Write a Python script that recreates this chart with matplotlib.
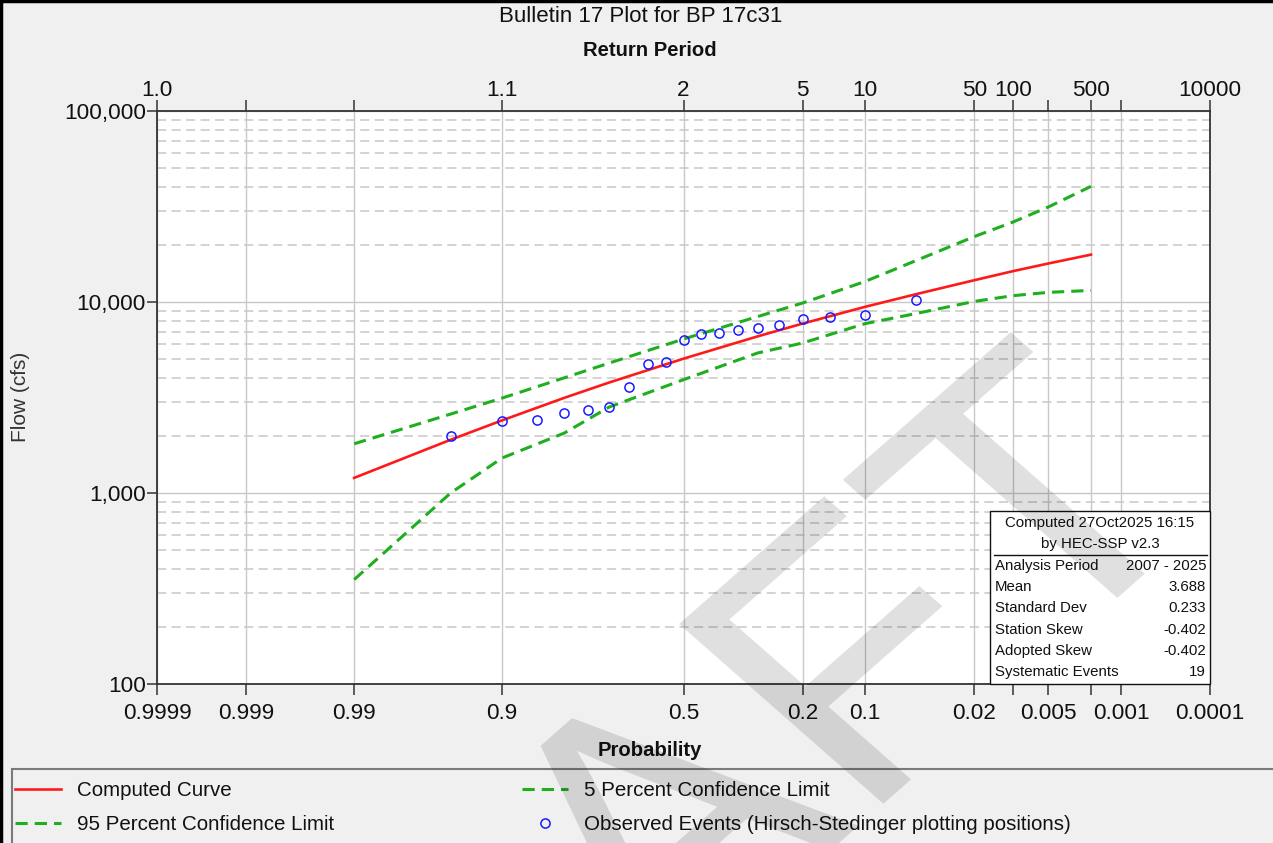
import math
import numpy as np
import matplotlib
matplotlib.use('Agg')
import matplotlib.pyplot as plt
from matplotlib.ticker import FixedLocator, FixedFormatter, LogLocator, NullFormatter
from matplotlib.patches import Rectangle, PathPatch
from matplotlib.textpath import TextPath
from matplotlib.font_manager import FontProperties
from matplotlib.transforms import Affine2D
from matplotlib.lines import Line2D

# ---------------- data ----------------
curve_prob = [0.99, 0.95, 0.9, 0.8, 0.7, 0.5, 0.3, 0.2, 0.1, 0.05, 0.02, 0.01, 0.005, 0.002]
computed_flow = [1200, 1900, 2400, 3150, 3790, 5050, 6610, 7710, 9430, 11000, 13000, 14500, 15900, 17700]
upper_5pct_flow = [1810, 2590, 3140, 4010, 4790, 6400, 8390, 9880, 12800, 16500, 22000, 26200, 31400, 40300]
lower_95pct_flow = [352, 1000, 1525, 2060, 2820, 3920, 5410, 6100, 7700, 8710, 10070, 10790, 11230, 11500]

obs_prob = [0.05, 0.10, 0.15, 0.20, 0.25, 0.30, 0.35, 0.40, 0.45, 0.50,
            0.55, 0.60, 0.65, 0.70, 0.75, 0.80, 0.85, 0.90, 0.95]
obs_flow = [10200, 8600, 8330, 8170, 7540, 7300, 7150, 6900, 6820, 6350,
            4870, 4750, 3610, 2810, 2710, 2620, 2420, 2370, 2000]

prob_ticks = [0.9999, 0.999, 0.99, 0.9, 0.5, 0.2, 0.1, 0.02, 0.01, 0.005, 0.002, 0.001, 0.0001]
prob_labels = ['0.9999', '0.999', '0.99', '0.9', '0.5', '0.2', '0.1', '0.02', '', '0.005', '', '0.001', '0.0001']
rp_labels = ['1.0', '', '', '1.1', '2', '5', '10', '50', '100', '', '500', '', '10000']
flow_ticks = [100, 1000, 10000, 100000]
flow_labels = ['100', '1,000', '10,000', '100,000']

stats_rows = [('Analysis Period', '2007 - 2025'), ('Mean', '3.688'), ('Standard Dev', '0.233'),
              ('Station Skew', '-0.402'), ('Adopted Skew', '-0.402'), ('Systematic Events', '19')]

# ---------------- normal probability scale ----------------
_a = [-3.969683028665376e+01, 2.209460984245205e+02, -2.759285104469687e+02,
      1.383577518672690e+02, -3.066479806614716e+01, 2.506628277459239e+00]
_b = [-5.447609879822406e+01, 1.615858368580409e+02, -1.556989798598866e+02,
      6.680131188771972e+01, -1.328068155288572e+01]
_c = [-7.784894002430293e-03, -3.223964580411365e-01, -2.400758277161838e+00,
      -2.549671954608160e+00, 4.374664141464968e+00, 2.938163982698783e+00]
_d = [7.784695709041462e-03, 3.224671290700398e-01, 2.445134137142996e+00,
      3.754408661907416e+00]


def _ppf(p):
    p = np.clip(np.asarray(p, dtype=float), 1e-15, 1 - 1e-15)
    plow = 0.02425
    out = np.empty_like(p)
    lo = p < plow
    hi = p > 1 - plow
    mid = ~(lo | hi)
    q = np.sqrt(-2 * np.log(p[lo]))
    out[lo] = (((((_c[0]*q+_c[1])*q+_c[2])*q+_c[3])*q+_c[4])*q+_c[5]) / \
              ((((_d[0]*q+_d[1])*q+_d[2])*q+_d[3])*q+1)
    q = np.sqrt(-2 * np.log(1 - p[hi]))
    out[hi] = -(((((_c[0]*q+_c[1])*q+_c[2])*q+_c[3])*q+_c[4])*q+_c[5]) / \
              ((((_d[0]*q+_d[1])*q+_d[2])*q+_d[3])*q+1)
    q = p[mid] - 0.5
    r = q * q
    out[mid] = (((((_a[0]*r+_a[1])*r+_a[2])*r+_a[3])*r+_a[4])*r+_a[5])*q / \
               (((((_b[0]*r+_b[1])*r+_b[2])*r+_b[3])*r+_b[4])*r+1)
    return out


_erf = np.vectorize(math.erf)


def fwd(p):
    # exceedance probability -> standard normal variate (increasing)
    return _ppf(p)


def inv(z):
    z = np.asarray(z, dtype=float)
    return 0.5 * (1 + _erf(z / math.sqrt(2)))


def setup_prob_axis(a):
    a.set_xscale('function', functions=(fwd, inv))
    a.set_xlim(0.0001, 0.9999)
    left = a.transData.transform((0.9999, 1000))[0]
    right = a.transData.transform((0.0001, 1000))[0]
    if left > right:
        a.invert_xaxis()


# ---------------- figure ----------------
W, H = 1273, 843
FONT = 'Liberation Sans'
plt.rcParams['font.family'] = [FONT, 'DejaVu Sans']

fig = plt.figure(figsize=(W / 100, H / 100), dpi=100, facecolor='#f0f0f0')


def fx(x):
    return x / W


def fy(y):
    return 1 - y / H


ax = fig.add_axes([fx(157), fy(684), (1210 - 157) / W, (684 - 111) / H])
ax.set_facecolor('white')
ax.set_yscale('log')
ax.set_xscale('function', functions=(fwd, inv))

red = '#ff1a1a'
green = '#1eae1e'
blue = '#1a1aff'

h_comp, = ax.plot(curve_prob, computed_flow, color=red, lw=1.9, zorder=4,
                  label='Computed Curve')
h_5, = ax.plot(curve_prob, upper_5pct_flow, color=green, lw=2.2, dashes=(4, 2.3), zorder=3,
               label='5 Percent Confidence Limit')
h_95, = ax.plot(curve_prob, lower_95pct_flow, color=green, lw=2.2, dashes=(4, 2.3), zorder=3,
                label='95 Percent Confidence Limit')
h_obs, = ax.plot(obs_prob, obs_flow, ls='none', marker='o', ms=6.6, mfc='none', mec=blue,
                 mew=1.1, zorder=5, label='Observed Events (Hirsch-Stedinger plotting positions)')

ax.set_ylim(100, 100000)
setup_prob_axis(ax)

# x ticks (bottom)
ax.xaxis.set_major_locator(FixedLocator(prob_ticks))
ax.xaxis.set_major_formatter(FixedFormatter(prob_labels))
ax.xaxis.set_minor_locator(FixedLocator([]))
ax.tick_params(axis='x', which='major', direction='out', length=8, width=1.1, color='#333333',
               labelsize=16.2, pad=6, labelcolor='#111111')
# y ticks
ax.yaxis.set_major_locator(FixedLocator(flow_ticks))
ax.yaxis.set_major_formatter(FixedFormatter(flow_labels))
ax.yaxis.set_minor_locator(LogLocator(base=10, subs=[2, 3, 4, 5, 6, 7, 8, 9], numticks=20))
ax.yaxis.set_minor_formatter(NullFormatter())
ax.tick_params(axis='y', which='major', direction='out', length=7, width=1.1, color='#333333',
               labelsize=16.2, pad=1, labelcolor='#111111')
ax.tick_params(axis='y', which='minor', length=0)

ax.grid(True, which='major', axis='both', color='#c8c8c8', lw=1.0, zorder=0)
ax.grid(True, which='minor', axis='y', color='#c8c8c8', lw=1.1, ls=(0, (6, 3.5)), zorder=0)
ax.set_axisbelow(True)

for s in ax.spines.values():
    s.set_color('#333333')
    s.set_linewidth(1.3)

# top axis (return period)
ax2 = ax.twiny()
setup_prob_axis(ax2)
ax2.xaxis.set_major_locator(FixedLocator(prob_ticks))
ax2.xaxis.set_major_formatter(FixedFormatter(rp_labels))
ax2.xaxis.set_minor_locator(FixedLocator([]))
ax2.tick_params(axis='x', which='major', direction='out', length=8, width=1.1, color='#333333',
                labelsize=16.2, pad=-0.5, labelcolor='#111111')
for s in ax2.spines.values():
    s.set_visible(False)

# titles / labels
fig.text(fx(641), fy(16), 'Bulletin 17 Plot for BP 17c31', ha='center', va='center',
         fontsize=16, color='#111111')
fig.text(fx(650), fy(51), 'Return Period', ha='center', va='center', fontsize=14.6,
         fontweight='bold', color='#111111')
fig.text(fx(650), fy(750), 'Probability', ha='center', va='center', fontsize=14.6,
         fontweight='bold', color='#111111')
fig.text(fx(21), fy(397), 'Flow (cfs)', ha='center', va='center', rotation=90,
         fontsize=15, color='#333333')

# statistics box
fig.patches.append(Rectangle((fx(990), fy(684)), (1210 - 990) / W, (684 - 511) / H,
                             transform=fig.transFigure, facecolor='white',
                             edgecolor='#111111', lw=1.0, zorder=5))
fig.text(fx(1100), fy(523), 'Computed 27Oct2025 16:15', ha='center', va='center',
         fontsize=10.8, color='#111111', zorder=6)
fig.text(fx(1100), fy(544), 'by HEC-SSP v2.3', ha='center', va='center',
         fontsize=10.8, color='#111111', zorder=6)
fig.add_artist(Line2D([fx(994), fx(1207)], [fy(555), fy(555)], transform=fig.transFigure,
                      color='#111111', lw=1.0, zorder=6))
row_y = [566, 587, 608, 630, 651, 672]
for (name, val), yy in zip(stats_rows, row_y):
    fig.text(fx(995), fy(yy), name, ha='left', va='center', fontsize=10.8,
             color='#111111', zorder=6)
    fig.text(fx(1206), fy(yy), val, ha='right', va='center', fontsize=10.8,
             color='#111111', zorder=6)

# legend box
fig.patches.append(Rectangle((fx(12), fy(850)), (1290 - 12) / W, (850 - 769) / H,
                             transform=fig.transFigure, facecolor='#f0f0f0',
                             edgecolor='#7a7a7a', lw=1.5, zorder=1))
leg = fig.legend(handles=[h_comp, h_95, h_5, h_obs], ncol=2, loc='upper left',
                 bbox_to_anchor=(fx(15), fy(781)), frameon=False, fontsize=14.8,
                 handlelength=2.25, handletextpad=0.75, columnspacing=9.15,
                 labelspacing=0.75, borderpad=0, borderaxespad=0, numpoints=1)
leg.set_zorder(6)
for t in leg.get_texts():
    t.set_color('#111111')

# window border (left & top)
fig.add_artist(Line2D([fx(1), fx(1)], [0, 1], transform=fig.transFigure, color='black', lw=2.5, zorder=30))
fig.add_artist(Line2D([0, 1], [fy(1), fy(1)], transform=fig.transFigure, color='black', lw=2.5, zorder=30))

# DRAFT watermark
tp = TextPath((0, 0), 'DRAFT', size=1, prop=FontProperties(family=FONT))
tr = Affine2D().scale(420).rotate_deg(45).scale(1, 0.88).translate(232, H - 1377)
fig.add_artist(PathPatch(tp, transform=tr, facecolor=(0, 0, 0, 0.12), edgecolor='none', zorder=20))

fig.savefig('out.png', dpi=100, facecolor=fig.get_facecolor())
